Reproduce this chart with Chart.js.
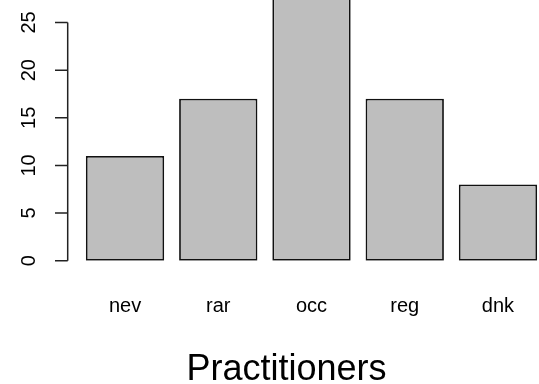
<!DOCTYPE html>
<html>
<head>
<meta charset="utf-8">
<script src="https://cdn.jsdelivr.net/npm/chart.js@4/dist/chart.umd.min.js"></script>
<style>
  html, body { margin: 0; padding: 0; background: #fff; overflow: hidden; }
  #wrap { width: 550px; height: 384px; }
</style>
</head>
<body>
<div id="wrap"><canvas id="chart"></canvas></div>
<script>
// data
const categories = ['nev', 'rar', 'occ', 'reg', 'dnk'];
const counts = [11, 17, 28, 17, 8];
const yTicks = [0, 5, 10, 15, 20, 25];
const xTitle = 'Practitioners';

const FONT = "'Liberation Sans', Arial, sans-serif";

// R-style left axis (line only from first to last tick) plus the x label
const rAxis = {
    id: 'rAxis',
    afterDraw(chart) {
        const ctx = chart.ctx;
        const y = chart.scales.y;
        const axisX = 67.7;
        ctx.save();
        ctx.strokeStyle = '#222';
        ctx.lineWidth = 1.5;
        ctx.beginPath();
        ctx.moveTo(axisX, y.getPixelForValue(yTicks[0]));
        ctx.lineTo(axisX, y.getPixelForValue(yTicks[yTicks.length - 1]));
        yTicks.forEach(t => {
            const py = y.getPixelForValue(t);
            ctx.moveTo(axisX, py);
            ctx.lineTo(axisX - 12.7, py);
        });
        ctx.stroke();

        ctx.fillStyle = '#000';
        ctx.font = '20px ' + FONT;
        ctx.textAlign = 'center';
        ctx.textBaseline = 'middle';
        yTicks.forEach(t => {
            ctx.save();
            ctx.translate(29, y.getPixelForValue(t));
            ctx.rotate(-Math.PI / 2);
            ctx.fillText(String(t), 0, 0);
            ctx.restore();
        });

        ctx.font = '36px ' + FONT;
        ctx.textBaseline = 'alphabetic';
        ctx.fillText(xTitle, 286.5, 380);
        ctx.restore();
    }
};

new Chart(document.getElementById('chart'), {
    type: 'bar',
    data: {
        labels: categories,
        datasets: [{
            data: counts,
            backgroundColor: '#bebebe',
            borderColor: '#111',
            borderWidth: 1.8,
            borderSkipped: false,
            categoryPercentage: 1,
            barPercentage: 0.84
        }]
    },
    options: {
        responsive: true,
        maintainAspectRatio: false,
        animation: false,
        layout: { padding: { left: 78.4, right: 5.4, top: 0, bottom: 0 } },
        plugins: {
            legend: { display: false },
            tooltip: { enabled: false }
        },
        scales: {
            x: {
                grid: { display: false },
                border: { display: false },
                ticks: {
                    color: '#000',
                    font: { family: FONT, size: 20 },
                    padding: 26
                },
                afterFit: (scale) => { scale.height = 123.3; }
            },
            y: {
                display: false,
                min: 0,
                max: 27.36
            }
        }
    },
    plugins: [rAxis]
});
</script>
</body>
</html>
